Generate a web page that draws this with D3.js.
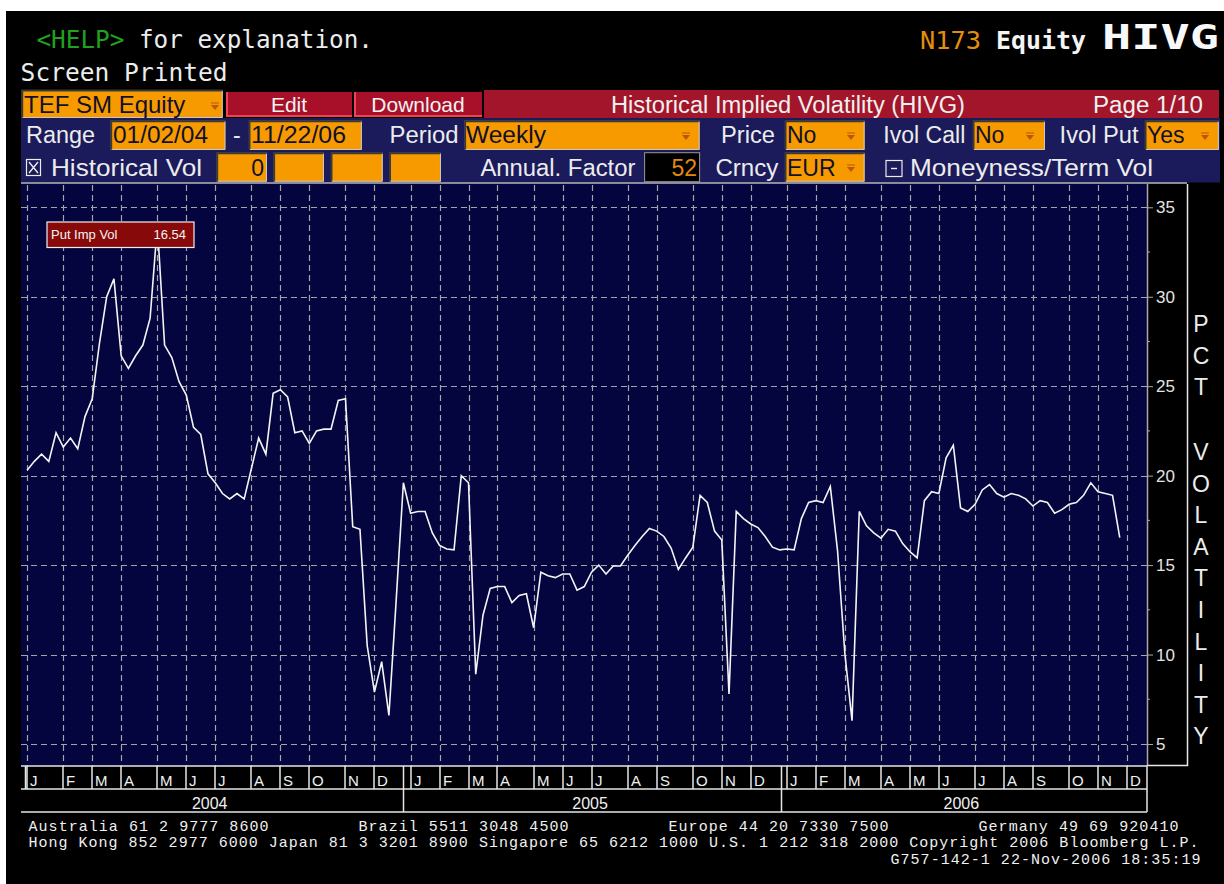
<!DOCTYPE html>
<html><head><meta charset="utf-8">
<script src="https://cdn.jsdelivr.net/npm/d3@7"></script>
<style>
html,body{margin:0;padding:0;background:#fff;}
svg{display:block;}
</style></head><body>
<svg id="c" width="1224" height="884"></svg>
<script>
// ---------------- data ----------------
const monthLetters = ["J","F","M","A","M","J","J","A","S","O","N","D"];
const yearLabels = ["2004","2005","2006"];
const yTickValues = [5,10,15,20,25,30,35];
const axisTitleTop = "PCT";
const axisTitleBottom = "VOLATILITY";
const firstWeek = [2004, 0, 2];           // first weekly observation (Fri 2 Jan 2004)
const axisEnd = [2006, 11, 1];
const seriesName = "Put Imp Vol";
const lastValueText = "16.54";
// weekly put implied volatility
const putImpVol = [
  20.3,20.8,21.2,20.8,22.4,21.6,22.1,21.5,23.3,24.3,
  27.4,30.0,31.0,26.7,26.0,26.7,27.3,28.8,34.0,27.3,
  26.6,25.25,24.5,22.7,22.3,20.1,19.6,19.0,18.7,19.0,
  18.7,20.4,22.1,21.2,24.6,24.8,24.4,22.4,22.5,21.8,
  22.5,22.6,22.6,24.2,24.3,17.15,17.0,10.5,7.9,9.6,
  6.6,13.0,19.6,17.9,18.0,18.0,16.8,16.1,15.9,15.85,
  20.0,19.6,8.9,12.2,13.7,13.8,13.8,12.9,13.3,13.4,
  11.5,14.6,14.4,14.3,14.5,14.5,13.6,13.8,14.6,15.0,
  14.5,14.95,14.95,15.55,16.1,16.6,17.05,16.9,16.6,15.95,
  14.76,15.4,16.0,18.9,18.5,16.9,16.4,7.8,18.0,17.6,
  17.3,17.1,16.6,16.0,15.85,15.9,15.85,17.6,18.5,18.6,
  18.5,19.4,15.8,10.1,6.3,18.0,17.2,16.8,16.5,17.0,
  16.9,16.2,15.75,15.4,18.6,19.1,19.0,21.0,21.7,18.2,
  18.0,18.4,19.2,19.5,19.0,18.8,19.0,18.9,18.7,18.3,
  18.6,18.5,17.9,18.1,18.4,18.5,18.9,19.6,19.1,19.0,
  18.9,16.54
];
// header / form texts
const helpKey = "<HELP>";
const helpText = "for explanation.";
const printedText = "Screen Printed";
const pageCode = "N173";
const pageMarket = "Equity";
const pageFunc = "HIVG";
const footerLine1 = [["Australia 61 2 9777 8600",0],["Brazil 5511 3048 4500",33],["Europe 44 20 7330 7500",64],["Germany 49 69 920410",95]];
const footerLine2 = [["Hong Kong 852 2977 6000 Japan 81 3 3201 8900 Singapore 65 6212 1000 U.S. 1 212 318 2000 Copyright 2006 Bloomberg L.P.",0]];
const footerLine3 = [["G757-142-1 22-Nov-2006 18:35:19",86.2]];

// ---------------- drawing ----------------
const MONO = "'DejaVu Sans Mono', monospace";
const FMONO = "'Liberation Mono', 'DejaVu Sans Mono', monospace";
const SANS = "'Liberation Sans', Arial, sans-serif";
const ORANGE = "#f79a00";
const RED = "#a3152a";
const ROWBG = "#1b1b5b";
const PLOTBG = "#04043f";
const LIGHT = "#ececec";

const svg = d3.select("#c");
svg.append("rect").attr("width",1224).attr("height",884).attr("fill","#fff");
svg.append("rect").attr("x",6).attr("y",11).attr("width",1218).attr("height",873).attr("fill","#000");

function text(x, y, s, o) {
  const t = svg.append("text").attr("x", x).attr("y", y).text(s)
    .attr("font-family", o.family || SANS).attr("font-size", o.size || 23)
    .attr("fill", o.fill || LIGHT).style("white-space","pre");
  if (o.anchor) t.attr("text-anchor", o.anchor);
  if (o.weight) t.attr("font-weight", o.weight);
  if (o.len) t.attr("textLength", o.len).attr("lengthAdjust", o.adjust || "spacingAndGlyphs");
  return t;
}

// header
text(36.4, 48, helpKey, {family:MONO, size:25, fill:"#1fa31f", len:88});
text(139, 48, helpText, {family:MONO, size:25, fill:LIGHT, len:234});
text(20.6, 81, printedText, {family:MONO, size:25, fill:LIGHT, len:207});
text(920, 49, pageCode, {family:MONO, size:25, fill:"#e58e0c", len:61});
text(996, 49, pageMarket, {family:MONO, size:25, fill:"#f4f4f4", weight:"bold", len:90});
text(1102, 49, pageFunc, {family:MONO, size:33, fill:"#f8f8f8", weight:"bold", len:117});

// row 1: security box, buttons, title bar
function arrow(cx, cy) {
  svg.append("path").attr("d", `M${cx-4},${cy-1}L${cx+4},${cy-1}L${cx},${cy+4}Z`).attr("fill","#b8580a");
  svg.append("line").attr("x1",cx-4).attr("x2",cx+4).attr("y1",cy-3).attr("y2",cy-3).attr("stroke","#b8580a").attr("stroke-width",1);
}
function inputBox(x0, y0, w, h, fill) {
  svg.append("rect").attr("x",x0).attr("y",y0).attr("width",w).attr("height",h).attr("fill",fill);
  svg.append("path").attr("d",`M${x0+0.5},${y0+h}V${y0+0.5}H${x0+w}`).attr("fill","none").attr("stroke","#3a3a3a").attr("stroke-width",2);
  svg.append("path").attr("d",`M${x0+w-0.5},${y0+1}V${y0+h-0.5}H${x0+1}`).attr("fill","none").attr("stroke","#c8c8c8").attr("stroke-width",1);
}
svg.append("rect").attr("x",484).attr("y",90).attr("width",735).attr("height",28).attr("fill",RED);
inputBox(21.7, 90, 201, 28, ORANGE);
text(24, 112.5, "TEF SM Equity", {fill:"#10102a", size:24});
arrow(215, 106);
[[226,352,"Edit"],[354,482,"Download"]].forEach(([a,b,s]) => {
  svg.append("rect").attr("x",a).attr("y",92).attr("width",b-a).attr("height",25).attr("fill","#a8102a");
  svg.append("path").attr("d",`M${a+1},92V${116}H${b}`).attr("fill","none").attr("stroke","#f04456").attr("stroke-width",2);
  text((a+b)/2, 112, s, {anchor:"middle", size:21, fill:"#f2f2f2"});
});
text(611, 112.7, "Historical Implied Volatility (HIVG)", {size:23, fill:"#f0f0f0", len:354});
text(1093, 112.7, "Page 1/10", {size:23, fill:"#f0f0f0", len:110});

// rows 2 and 3
svg.append("rect").attr("x",21).attr("y",118).attr("width",1199).attr("height",64.5).attr("fill",ROWBG);
svg.append("line").attr("x1",21).attr("x2",1187).attr("y1",183).attr("y2",183).attr("stroke","#b8b8c8").attr("stroke-width",1.5);

const r2 = 143.3, r3 = 175.5;
text(26, r2, "Range", {size:23, len:69});
inputBox(110.7, 120.7, 114.7, 29.3, ORANGE); text(113, r2, "01/02/04", {size:23, fill:"#10102a", len:95});
text(233, r2, "-", {size:23});
inputBox(249, 120.7, 112.8, 29.3, ORANGE); text(251, r2, "11/22/06", {size:23, fill:"#10102a", len:95});
text(389.5, r2, "Period", {size:23, len:69});
inputBox(464.6, 120.7, 235, 29.3, ORANGE); text(466, r2, "Weekly", {size:23, fill:"#10102a", len:80}); arrow(686, 136);
text(721, r2, "Price", {size:23, len:54});
inputBox(785, 120.7, 79.6, 29.3, ORANGE); text(787, r2, "No", {size:23, fill:"#10102a"}); arrow(851, 136);
text(883.3, r2, "Ivol Call", {size:23, len:82});
inputBox(973, 120.7, 72, 29.3, ORANGE); text(975, r2, "No", {size:23, fill:"#10102a"}); arrow(1030, 136);
text(1059.6, r2, "Ivol Put", {size:23, len:79});
inputBox(1145, 120.7, 73.8, 29.3, ORANGE); text(1147, r2, "Yes", {size:23, fill:"#10102a"}); arrow(1205, 136);

// checkbox with X
svg.append("rect").attr("x",26.5).attr("y",159.5).attr("width",14).attr("height",16).attr("fill","none").attr("stroke",LIGHT).attr("stroke-width",1.2);
svg.append("path").attr("d","M29,162L38,173M38,162L29,173").attr("stroke",LIGHT).attr("stroke-width",1.4);
text(51, r3, "Historical Vol", {size:24, len:151});
[[216.7,267],[273.6,324],[331,382.7],[389.5,441]].forEach(([a,b]) => inputBox(a, 152.7, b-a, 29, ORANGE));
text(264, r3, "0", {size:23, fill:"#10102a", anchor:"end"});
text(480.4, r3, "Annual. Factor", {size:23, len:155});
svg.append("rect").attr("x",644.6).attr("y",152.7).attr("width",55).attr("height",29).attr("fill","#000").attr("stroke","#9a9a9a").attr("stroke-width",1);
text(697, r3, "52", {size:23, fill:"#e08a10", anchor:"end"});
text(715.4, r3, "Crncy", {size:23, len:63});
inputBox(785, 152.7, 79.6, 29, ORANGE); text(787, r3, "EUR", {size:23, fill:"#10102a"}); arrow(851, 168);
svg.append("rect").attr("x",886).attr("y",160.5).attr("width",16).attr("height",16).attr("fill","none").attr("stroke",LIGHT).attr("stroke-width",1.2);
svg.append("line").attr("x1",891).attr("x2",897).attr("y1",168.5).attr("y2",168.5).attr("stroke",LIGHT).attr("stroke-width",1.4);
text(910, r3, "Moneyness/Term Vol", {size:24, len:243});

// ---------------- plot ----------------
const P = {left:21, right:1147, top:184, bottom:766};
svg.append("rect").attr("x",P.left).attr("y",P.top).attr("width",P.right-P.left).attr("height",P.bottom-P.top).attr("fill",PLOTBG);

const start = new Date(Date.UTC(...firstWeek));
const data = putImpVol.map((v,i) => ({date: d3.utcDay.offset(start, 7*i), v}));
const x = d3.scaleUtc().domain([start, new Date(Date.UTC(...axisEnd))]).range([27.1, 1127]);
const y = d3.scaleLinear().domain([5,35]).range([744, 207.3]);

const monthStarts = d3.utcMonths(new Date(Date.UTC(2004,0,1)), new Date(Date.UTC(2007,0,1)));
const monthTicks = monthStarts.map(m => d3.utcFriday.ceil(m));
const yearStarts = monthStarts.filter(m => m.getUTCMonth() === 0);

// grid
const grid = svg.append("g").attr("stroke","#a4a4a4").attr("stroke-width",1.2).attr("stroke-dasharray","6,4").attr("fill","none");
grid.selectAll("line.h").data(yTickValues).join("line").attr("class","h")
  .attr("x1",P.left).attr("x2",P.right).attr("y1",d=>Math.round(y(d))+0.5).attr("y2",d=>Math.round(y(d))+0.5);
grid.selectAll("line.v").data(monthTicks).join("line").attr("class","v")
  .attr("x1",d=>Math.round(x(d))+0.5).attr("x2",d=>Math.round(x(d))+0.5).attr("y1",P.top+1).attr("y2",P.bottom);

// right axis
const axisG = svg.append("g").attr("transform",`translate(${P.right},0)`);
const yAxis = d3.axisRight(y).tickValues(yTickValues).tickSize(6).tickPadding(3).tickFormat(d3.format("d"));
axisG.call(yAxis);
axisG.select(".domain").remove();
axisG.selectAll(".tick line").attr("stroke","#a8a8a8");
axisG.selectAll(".tick text").attr("fill","#e4e4e4").attr("font-family",SANS).attr("font-size",17);
const minorTicks = yTickValues.slice(0,-1).map(v => v + 2.5);
axisG.selectAll("line.minor").data(minorTicks).join("line").attr("class","minor")
  .attr("x1",0).attr("x2",3).attr("y1",d=>y(d)).attr("y2",d=>y(d)).attr("stroke","#a8a8a8");
svg.append("line").attr("x1",P.right+0.5).attr("x2",P.right+0.5).attr("y1",P.top).attr("y2",P.bottom).attr("stroke","#a8a8a8").attr("stroke-width",1.5);
// right frame
svg.append("path").attr("d",`M${P.right},${P.bottom-0.5}H1187.5V${P.top}`).attr("fill","none").attr("stroke","#e8e8e8").attr("stroke-width",1.5);

// axis title letters
const lettersTop = axisTitleTop.split("");
const lettersBottom = axisTitleBottom.split("");
svg.selectAll("text.tt").data(lettersTop).join("text").attr("class","tt")
  .attr("x",1201).attr("y",(d,i)=>324+i*31.5+8).attr("text-anchor","middle")
  .attr("font-family",SANS).attr("font-size",23).attr("fill","#ececec").text(d=>d);
svg.selectAll("text.tb").data(lettersBottom).join("text").attr("class","tb")
  .attr("x",1201).attr("y",(d,i)=>452+i*31.6+8).attr("text-anchor","middle")
  .attr("font-family",SANS).attr("font-size",23).attr("fill","#ececec").text(d=>d);

// series line
svg.append("clipPath").attr("id","pc").append("rect").attr("x",P.left).attr("y",P.top).attr("width",P.right-P.left).attr("height",P.bottom-P.top);
svg.append("path").datum(data).attr("clip-path","url(#pc)")
  .attr("fill","none").attr("stroke","#f4f4f4").attr("stroke-width",1.6).attr("stroke-linejoin","miter")
  .attr("d", d3.line().x(d=>x(d.date)).y(d=>y(d.v)));

// legend / last value box
svg.append("rect").attr("x",47).attr("y",222).attr("width",147).attr("height",25.5)
  .attr("fill","#870909").attr("stroke","#f0f0f0").attr("stroke-width",1.2);
text(51, 239, seriesName, {size:13, fill:"#f4f4f4"});
text(186, 239, lastValueText, {size:13, fill:"#f4f4f4", anchor:"end"});

// ---------------- time bands ----------------
const bandTop = P.bottom, bandMid = 789, bandBot = 812;
const bands = svg.append("g").attr("stroke","#e6e6e6").attr("stroke-width",1.5);
bands.append("line").attr("x1",P.left).attr("x2",P.right).attr("y1",bandTop).attr("y2",bandTop);
bands.append("line").attr("x1",P.left).attr("x2",P.right).attr("y1",bandMid).attr("y2",bandMid);
bands.append("line").attr("x1",P.left).attr("x2",P.right).attr("y1",bandBot).attr("y2",bandBot);
bands.append("line").attr("x1",P.right).attr("x2",P.right).attr("y1",bandTop).attr("y2",bandBot);
bands.selectAll("line.m").data(monthTicks).join("line").attr("class","m")
  .attr("x1",d=>Math.round(x(d))).attr("x2",d=>Math.round(x(d))).attr("y1",bandTop).attr("y2",bandMid);
bands.selectAll("line.y").data(yearStarts).join("line").attr("class","y")
  .attr("x1",d=>Math.round(x(d))-0.5).attr("x2",d=>Math.round(x(d))-0.5).attr("y1",bandTop).attr("y2",d=>d.getUTCFullYear()===2004?bandMid:bandBot);

svg.selectAll("text.ml").data(monthTicks).join("text").attr("class","ml")
  .attr("x",d=>Math.round(x(d))+3).attr("y",786)
  .attr("font-family",SANS).attr("font-size",15).attr("fill","#f0f0f0")
  .text((d,i)=>monthLetters[d.getUTCMonth()]);

const yearBounds = yearStarts.map((d,i)=>{
  const a = i===0 ? P.left : x(d);
  const b = i===yearStarts.length-1 ? P.right : x(yearStarts[i+1]);
  return {a,b,label:yearLabels[i]};
});
svg.selectAll("text.yl").data(yearBounds).join("text").attr("class","yl")
  .attr("x",d=>(d.a+d.b)/2 - 3).attr("y",809)
  .attr("text-anchor","middle").attr("font-family",SANS).attr("font-size",16).attr("fill","#f0f0f0")
  .text(d=>d.label);

// ---------------- footer ----------------
const cell = 10.0, fx = 28.5;
[[footerLine1,830.7],[footerLine2,847.3],[footerLine3,864.3]].forEach(([segs,yy]) => {
  segs.forEach(([s,col]) => {
    text(fx + col*cell, yy, s, {family:FMONO, size:15, fill:"#f0f0f0", len:s.length*cell, adjust:"spacing"});
  });
});
</script>
</body></html>
